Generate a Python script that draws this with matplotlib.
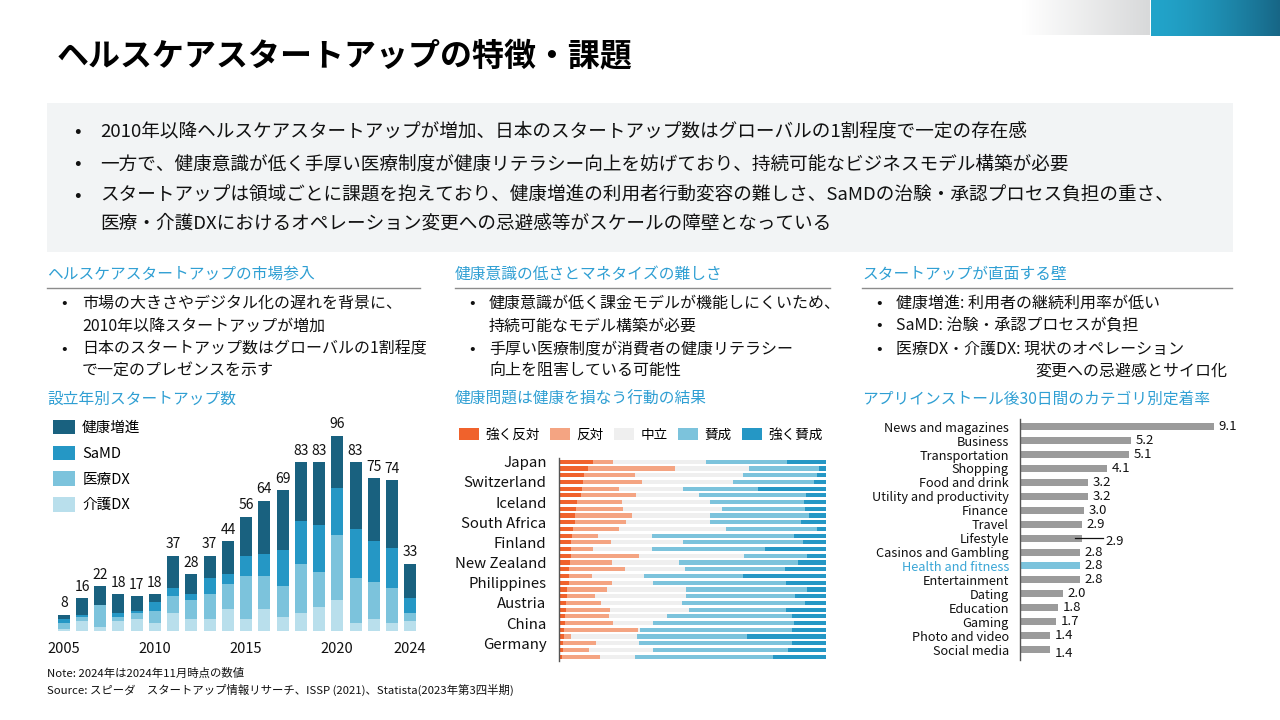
import numpy as np
import matplotlib
matplotlib.use("Agg")
import matplotlib.pyplot as plt
from matplotlib.patches import Rectangle

plt.rcParams['font.family'] = ['Noto Sans CJK JP', 'DejaVu Sans']

# ---------------- data ----------------
years = list(range(2005, 2025))
year_ticks = [2005, 2010, 2015, 2020, 2024]
s_kenko = [2, 8, 9, 9, 7, 4, 16, 10, 11, 16, 19, 26, 29, 29, 31, 26, 33, 31, 33, 17]
s_samd = [2, 1, 0, 2, 1, 4, 4, 3, 8, 5, 10, 11, 18, 21, 23, 23, 24, 20, 20, 7]
s_iryo = [3, 2, 11, 2, 3, 6, 8, 9, 12, 12, 21, 16, 15, 24, 17, 32, 22, 18, 17, 4]
s_kaigo = [1, 5, 2, 5, 6, 4, 9, 6, 6, 11, 6, 11, 7, 9, 12, 15, 4, 6, 4, 5]
stack_labels = ['健康増進', 'SaMD', '医療DX', '介護DX']

countries = ['Japan', '', '', 'Switzerland', '', '', 'Iceland', '', '', 'South Africa',
             '', '', 'Finland', '', '', 'New Zealand', '', '', 'Philippines', '', '',
             'Austria', '', '', 'China', '', '', 'Germany', '', '']
att_labels = ['強く反対', '反対', '中立', '賛成', '強く賛成']
strong_oppose = [12.7, 10.9, 9.4, 9.0, 8.6, 8.2, 6.7, 6.4, 6.0, 6.0, 5.2, 4.9, 4.5, 4.5, 4.5,
                 4.1, 3.7, 3.7, 3.7, 3.0, 3.0, 2.6, 2.6, 2.2, 2.2, 1.9, 1.9, 1.5, 1.5, 1.1]
oppose = [7.5, 32.5, 19.1, 22.1, 13.9, 20.6, 16.9, 17.6, 21.3, 19.1, 17.3, 9.7, 15.0, 8.2, 25.5,
          15.8, 21.0, 8.7, 16.2, 15.0, 10.5, 13.1, 16.5, 16.5, 18.0, 27.7, 2.6, 12.4, 9.7, 14.3]
neutral = [34.9, 27.8, 40.4, 34.1, 23.9, 23.6, 33.0, 37.0, 29.3, 31.5, 40.0, 20.2, 26.9, 22.1, 39.3,
           25.0, 22.5, 19.4, 15.3, 29.6, 34.1, 30.4, 29.6, 21.7, 15.0, 0.7, 24.7, 16.1, 24.0, 13.1]
agree = [30.3, 26.2, 27.7, 30.3, 28.1, 40.1, 35.2, 31.1, 37.0, 34.0, 34.1, 53.2, 45.0, 42.4, 23.6,
         44.6, 37.4, 37.1, 49.8, 45.3, 40.8, 46.0, 36.3, 46.9, 52.8, 57.0, 41.3, 57.3, 50.6, 51.6]
strong_agree = [14.6, 2.6, 3.4, 4.5, 25.5, 7.5, 8.2, 7.9, 6.4, 9.4, 3.4, 12.0, 8.6, 22.8, 7.1,
                10.5, 15.4, 31.1, 15.0, 7.1, 11.6, 7.9, 15.0, 12.7, 12.0, 12.7, 29.5, 12.7, 14.2, 19.9]

app_categories = ['News and magazines', 'Business', 'Transportation', 'Shopping', 'Food and drink',
                  'Utility and productivity', 'Finance', 'Travel', 'Lifestyle',
                  'Casinos and Gambling', 'Health and fitness', 'Entertainment', 'Dating',
                  'Education', 'Gaming', 'Photo and video', 'Social media']
app_values = [9.1, 5.2, 5.1, 4.1, 3.2, 3.2, 3.0, 2.9, 2.9, 2.8, 2.8, 2.8, 2.0, 1.8, 1.7, 1.4, 1.4]

# ---------------- figure ----------------
W, H = 1280, 720
fig = plt.figure(figsize=(12.8, 7.2), dpi=100)
fig.patch.set_facecolor('white')


def fx(x):
    return x / W


def fy(y):
    return 1 - y / H


def ftext(x, y, s, **kw):
    kw.setdefault('va', 'center')
    kw.setdefault('ha', 'left')
    return fig.text(fx(x), fy(y), s, **kw)


def add_axes_px(x0, y0, x1, y1):
    return fig.add_axes([fx(x0), fy(y1), (x1 - x0) / W, (y1 - y0) / H])


# top-right gradients
gax = add_axes_px(1022, 0, 1150, 35)
grad = np.linspace(0, 1, 256)
c0 = np.array([1.0, 1.0, 1.0]); c1 = np.array([0xd8, 0xd9, 0xda]) / 255
img = c0[None, None, :] * (1 - grad[None, :, None]) + c1[None, None, :] * grad[None, :, None]
gax.imshow(img, aspect='auto'); gax.axis('off')
bax = add_axes_px(1151, 0, 1280, 36)
b0 = np.array([0x22, 0xa4, 0xca]) / 255; b1 = np.array([0x17, 0x66, 0x86]) / 255
img2 = b0[None, None, :] * (1 - grad[None, :, None] ** 1.5) + b1[None, None, :] * grad[None, :, None] ** 1.5
bax.imshow(img2, aspect='auto'); bax.axis('off')

# title
ftext(57, 57, 'ヘルスケアスタートアップの特徴・課題', fontsize=23, fontweight='bold', color='black')

# grey summary box
fig.add_artist(Rectangle((fx(47), fy(252)), (1233 - 47) / W, (252 - 103) / H,
                         transform=fig.transFigure, facecolor='#f2f4f5', edgecolor='none', zorder=0))
box_lines = [
    (131, True, '2010年以降ヘルスケアスタートアップが増加、日本のスタートアップ数はグローバルの1割程度で一定の存在感'),
    (164, True, '一方で、健康意識が低く手厚い医療制度が健康リテラシー向上を妨げており、持続可能なビジネスモデル構築が必要'),
    (196, True, 'スタートアップは領域ごとに課題を抱えており、健康増進の利用者行動変容の難しさ、SaMDの治験・承認プロセス負担の重さ、'),
    (224, False, '医療・介護DXにおけるオペレーション変更への忌避感等がスケールの障壁となっている'),
]
for y, bul, s in box_lines:
    if bul:
        ftext(74, y, '•', fontsize=14, color='#111111')
    ftext(100, y, s, fontsize=13.4, color='#111111')

# section headers
hdr_color = '#2f9fd3'
for x0, x1, s in [(47, 420, 'ヘルスケアスタートアップの市場参入'),
                  (455, 830, '健康意識の低さとマネタイズの難しさ'),
                  (862, 1232, 'スタートアップが直面する壁')]:
    ftext(x0, 274, s, fontsize=11.3, color=hdr_color)
    fig.add_artist(plt.Line2D([fx(x0), fx(x1)], [fy(288), fy(288)], transform=fig.transFigure,
                              color='#8c8c8c', lw=1))

bullets = [
    (62, 82, [(303, True, '市場の大きさやデジタル化の遅れを背景に、'),
              (326, False, '2010年以降スタートアップが増加'),
              (349, True, '日本のスタートアップ数はグローバルの1割程度'),
              (371, False, 'で一定のプレゼンスを示す')]),
    (470, 489, [(303, True, '健康意識が低く課金モデルが機能しにくいため、'),
                (326, False, '持続可能なモデル構築が必要'),
                (349, True, '手厚い医療制度が消費者の健康リテラシー'),
                (371, False, '向上を阻害している可能性')]),
    (877, 896, [(303, True, '健康増進: 利用者の継続利用率が低い'),
                (326, True, 'SaMD: 治験・承認プロセスが負担'),
                (349, True, '医療DX・介護DX: 現状のオペレーション')]),
]
for bx, tx, lines in bullets:
    for y, bul, s in lines:
        if bul:
            ftext(bx - 1, y, '•', fontsize=12, color='#111111')
        ftext(tx, y, s, fontsize=11.5, color='#111111')
ftext(1035, 371, '変更への忌避感とサイロ化', fontsize=11.5, color='#111111')

# chart titles
ftext(47, 399, '設立年別スタートアップ数', fontsize=11.3, color=hdr_color)
ftext(455, 399, '健康問題は健康を損なう行動の結果', fontsize=11.3, color=hdr_color)
ftext(862, 399, 'アプリインストール後30日間のカテゴリ別定着率', fontsize=11.3, color=hdr_color)

# notes
ftext(47, 673, 'Note: 2024年は2024年11月時点の数値', fontsize=8.2, color='#111111')
ftext(47, 690, 'Source: スピーダ\u3000スタートアップ情報リサーチ、ISSP (2021)、Statista(2023年第3四半期)',
      fontsize=8.2, color='#111111')

# ---------------- chart 1: stacked bars ----------------
ax1 = add_axes_px(51, 407, 423, 631)
x = np.arange(len(years))
stack_colors = ['#19617f', '#2597c5', '#7cc3dc', '#b9dfec']
series = [s_kaigo, s_iryo, s_samd, s_kenko]
cols = stack_colors[::-1]
bottom = np.zeros(len(years))
for vals, c, lab in zip(series, cols, stack_labels[::-1]):
    ax1.bar(x, vals, bottom=bottom, width=0.66, color=c, label=lab)
    bottom += np.array(vals)
for xi, t in zip(x, bottom):
    ax1.text(xi, t + 2.2, f'{int(t)}', ha='center', va='bottom', fontsize=10, color='#111111')
ax1.set_xlim(-0.7, len(years) - 0.3)
ax1.set_ylim(0, 110)
ax1.set_xticks([years.index(y) for y in year_ticks])
ax1.set_xticklabels([str(y) for y in year_ticks], fontsize=10.5, color='#111111')
ax1.tick_params(axis='x', length=0, pad=8)
ax1.set_yticks([])
for sp in ax1.spines.values():
    sp.set_visible(False)
ax1.patch.set_alpha(0)
h, l = ax1.get_legend_handles_labels()
ax1.legend(h[::-1], l[::-1], loc='upper left', bbox_to_anchor=(fx(53), fy(420)),
           bbox_transform=fig.transFigure, frameon=False, fontsize=10.5,
           handlelength=1.5, handleheight=1.15, labelspacing=0.72, handletextpad=0.5,
           borderpad=0, borderaxespad=0)

# ---------------- chart 2: 100% stacked ----------------
ax2 = add_axes_px(559, 457.7, 826, 660.7)
att_colors = ['#f0622c', '#f4a482', '#efefef', '#7cc3dc', '#2597c5']
att_series = [strong_oppose, oppose, neutral, agree, strong_agree]
rows = np.arange(len(countries))
left = np.zeros(len(countries))
for vals, c, lab in zip(att_series, att_colors, att_labels):
    v = np.array(vals)
    ax2.barh(rows, v, left=left, height=0.62, color=c, label=lab)
    left += v
ax2.set_ylim(len(countries) - 0.4, -0.6)
ax2.set_xlim(0, left.max())
ax2.set_yticks(rows)
ax2.set_yticklabels(countries, fontsize=10.8, color='#111111')
ax2.tick_params(axis='y', length=0, pad=9)
ax2.set_xticks([])
for k, sp in ax2.spines.items():
    sp.set_visible(k == 'left')
ax2.spines['left'].set_color('#555555')
ax2.spines['left'].set_linewidth(1)
ax2.legend(loc='center left', bbox_to_anchor=(fx(459), fy(435)), bbox_transform=fig.transFigure,
           ncol=5, frameon=False, fontsize=9.8, handlelength=1.45, handleheight=1.0,
           handletextpad=0.5, columnspacing=0.75, borderpad=0, borderaxespad=0)

# ---------------- chart 3: horizontal bars ----------------
ax3 = add_axes_px(1020, 419, 1244, 660)
n = len(app_categories)
ypos = np.arange(n)
hl = 'Health and fitness'
bar_cols = ['#7cc3dc' if c == hl else '#9b9b9b' for c in app_categories]
ax3.barh(ypos, app_values, height=0.5, color=bar_cols)
ax3.set_ylim(n - 1 + 0.75, -0.55)
ax3.set_xlim(0, 10.5)
for i, (c, v) in enumerate(zip(app_categories, app_values)):
    if c == 'Lifestyle':
        ax3.plot([v - 0.3, v + 1.0], [i, i], color='#111111', lw=0.9)
        ax3.text(v + 1.12, i + 0.22, f'{v:.1f}', va='center', ha='left', fontsize=9.5, color='#111111')
    else:
        dy = 0.25 if i == n - 1 else 0.0
        ax3.text(v + 0.22, i + dy, f'{v:.1f}', va='center', ha='left', fontsize=9.5, color='#111111')
ax3.set_yticks(ypos)
ax3.set_yticklabels(app_categories, fontsize=9.2, color='#111111')
for lbl in ax3.get_yticklabels():
    if lbl.get_text() == hl:
        lbl.set_color('#3aa6d6')
ax3.tick_params(axis='y', length=0, pad=8)
ax3.set_xticks([])
for k, sp in ax3.spines.items():
    sp.set_visible(k == 'left')
ax3.spines['left'].set_color('#555555')
ax3.spines['left'].set_linewidth(1)
ax3.patch.set_alpha(0)

fig.savefig('out.png', dpi=100, facecolor='white')
